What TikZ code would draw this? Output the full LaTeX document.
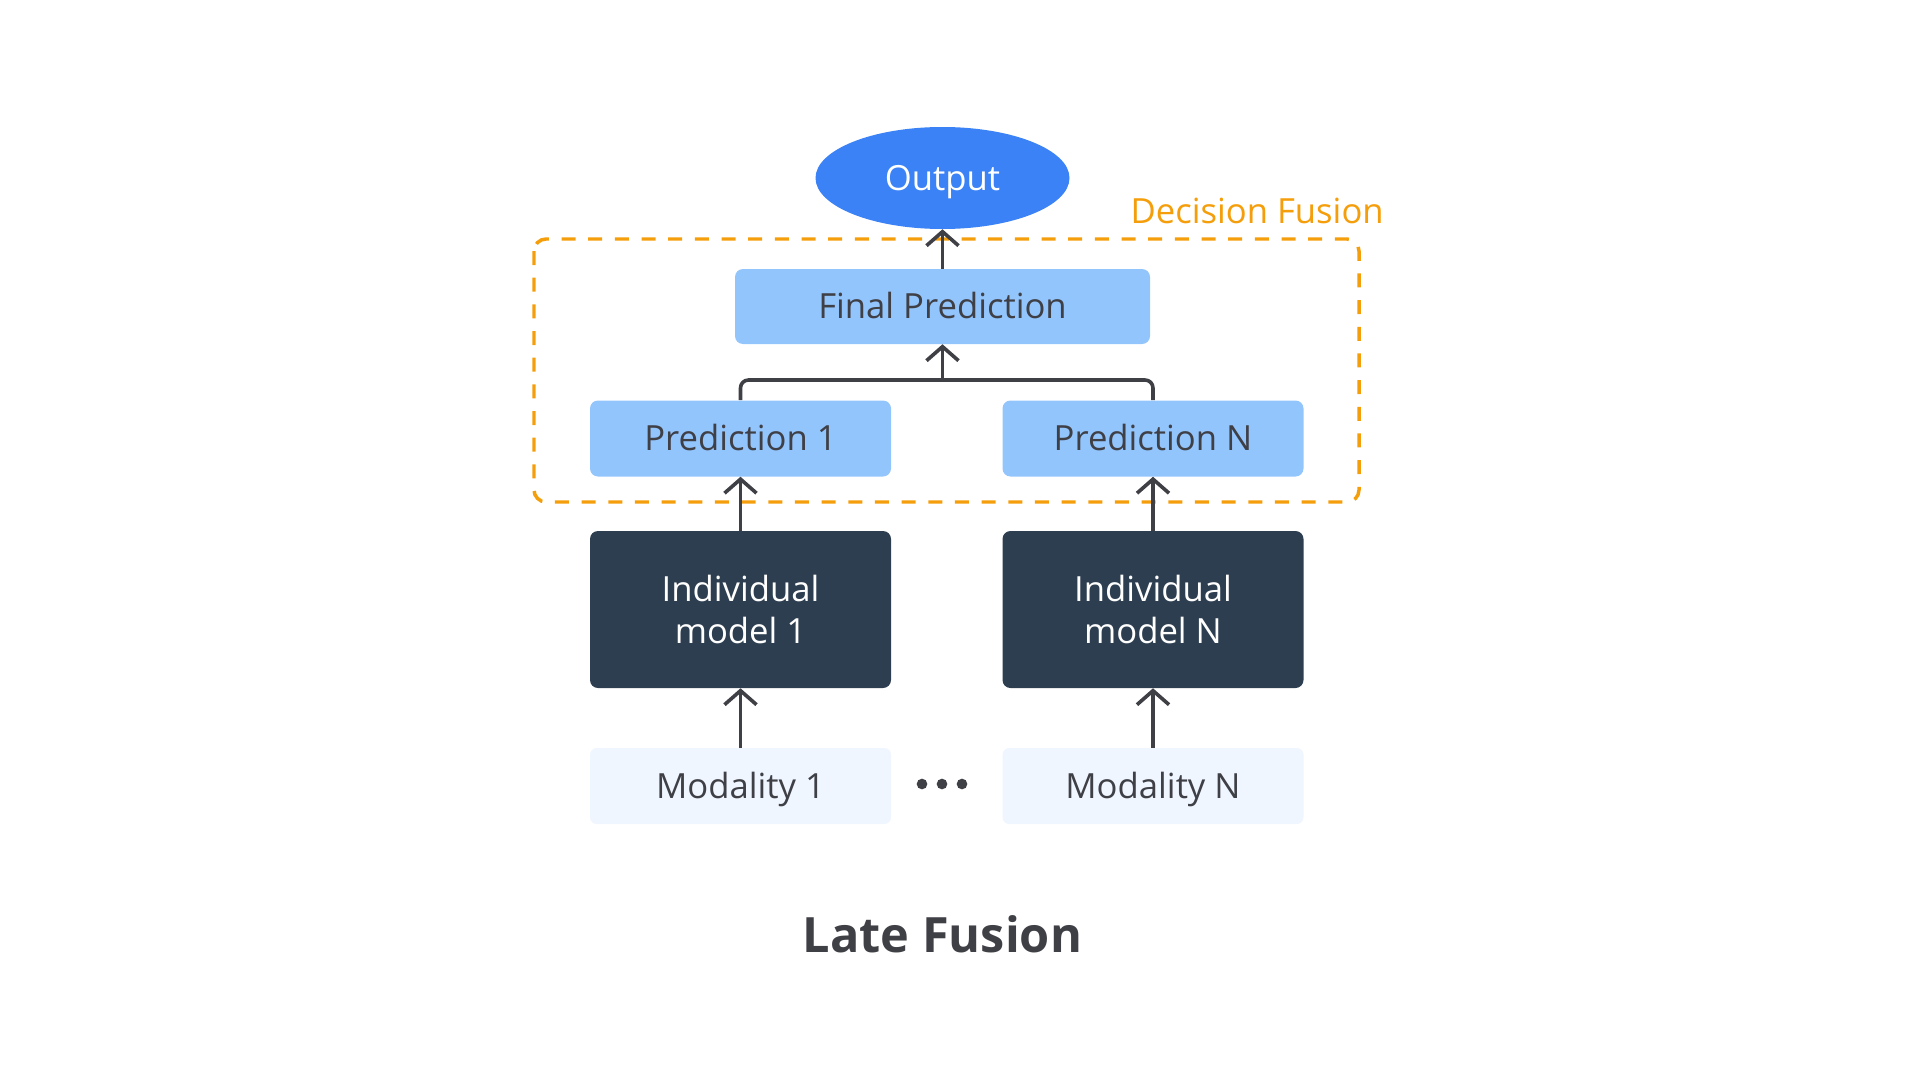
\documentclass[tikz,border=0pt]{standalone}
\usepackage{fontspec}
\setmainfont{Open Sans}
\usetikzlibrary{arrows.meta,shapes.geometric}
\definecolor{outblue}{HTML}{3B82F6}
\definecolor{predblue}{HTML}{93C5FD}
\definecolor{modelnavy}{HTML}{2D3E50}
\definecolor{modbg}{HTML}{EFF6FF}
\definecolor{txtgray}{HTML}{3F3F46}
\definecolor{amber}{HTML}{F59E0B}
\begin{document}
\begin{tikzpicture}[x=0.75pt,y=-0.75pt,
  every node/.style={font=\fontsize{26}{31.5}\selectfont},
  predbox/.style={rectangle, rounded corners=6pt, fill=predblue, text=txtgray,
    minimum width=225.75pt, minimum height=57pt, inner sep=0pt, text height=18.7pt, text depth=0pt},
  modelbox/.style={rectangle, rounded corners=6pt, fill=modelnavy, text=white,
    minimum width=225.75pt, minimum height=117.75pt, inner sep=0pt, align=center},
  modbox/.style={rectangle, rounded corners=5pt, fill=modbg, text=txtgray,
    minimum width=225.75pt, minimum height=57pt, inner sep=0pt, text height=18.7pt, text depth=0pt},
  conn/.style={draw=txtgray, line width=2.7pt},
  arr/.style={conn, -{Straight Barb[length=10.5pt,width=24pt,line width=2.7pt]}},
  dashbox/.style={draw=amber, line width=2.6pt, dash pattern=on 10.5pt off 9.5pt, rounded corners=9pt},
]
\useasboundingbox (0,0) rectangle (1920,1081);
% dashed decision fusion region
\draw[dashbox] (534,239) rectangle (1359,502);
\node[anchor=base east, inner sep=0pt, text=amber] (dflabel) at (1384,223) {Decision Fusion};
% nodes
\node[ellipse, fill=outblue, text=white, minimum width=190.5pt, minimum height=76.5pt, inner sep=0pt, text height=18.7pt, text depth=0pt] (out) at (942.5,178) {Output};
\node[predbox, minimum width=311.25pt, minimum height=56.25pt] (final) at (942.5,306.5) {Final Prediction};
\node[predbox] (p1) at (740.5,438.5) {Prediction 1};
\node[predbox] (pN) at (1153,438.5) {Prediction N};
\node[modelbox] (m1) at (740.5,609.5) {Individual\\model 1};
\node[modelbox] (mN) at (1153,609.5) {Individual\\model N};
\node[modbox] (d1) at (740.5,786) {Modality 1};
\node[modbox] (dN) at (1153,786) {Modality N};
% dots
\fill[txtgray] (922,784) circle (4pt) (942,784) circle (4pt) (962,784) circle (4pt);
% title
\node[font=\fontsize{36.5}{44}\selectfont\bfseries, text=txtgray, anchor=base, inner sep=0pt] (title) at (942.5,952) {Late Fusion};
% connectors
\coordinate (j) at (942.5,380);
\draw[conn, rounded corners=6pt] (p1.north) |- (j) -| (pN.north);
\draw[arr] (j) -- (final.south);
\draw[arr] (final.north) -- (out.south);
\draw[arr] (m1.north) -- (p1.south);
\draw[arr] (mN.north) -- (pN.south);
\draw[arr] (d1.north) -- (m1.south);
\draw[arr] (dN.north) -- (mN.south);
\end{tikzpicture}
\end{document}
